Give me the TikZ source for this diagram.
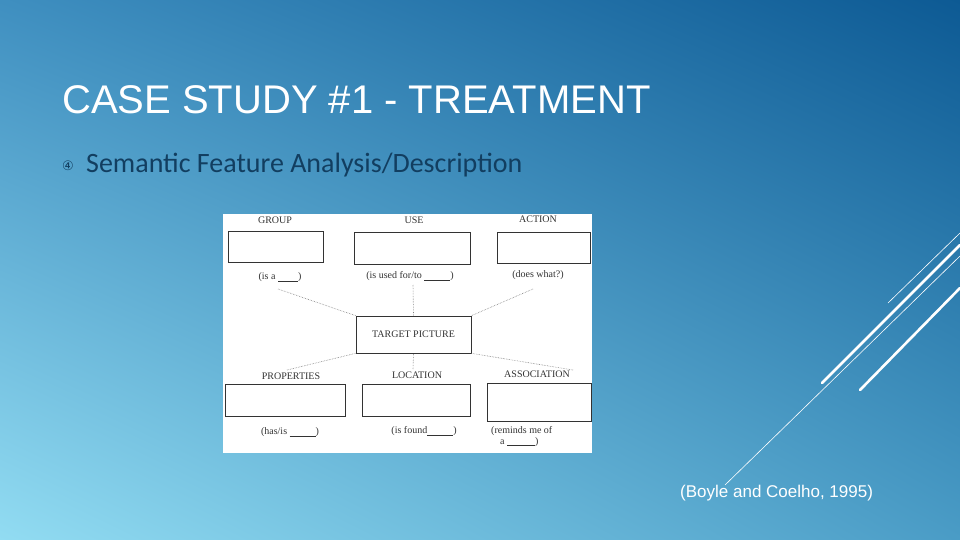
\documentclass[tikz,border=0pt]{standalone}
\usepackage{fontspec}
\usetikzlibrary{shadings}
\setmainfont{Liberation Sans}
\newfontfamily\serfont{Liberation Serif}
\newfontfamily\carfont{Carlito}
\newfontfamily\djv{DejaVu Sans}
\definecolor{bgTR}{HTML}{0D5A94}
\definecolor{bgTL}{HTML}{3F8FC0}
\definecolor{bgBL}{HTML}{92DCF2}
\definecolor{bgBR}{HTML}{4A9CC6}
\definecolor{subcol}{HTML}{123E60}
\definecolor{inkc}{HTML}{333333}
\begin{document}
\begin{tikzpicture}[x=1pt,y=-1pt,
  fbox/.style={draw=inkc,line width=0.6pt},
  flabel/.style={font=\serfont\fontsize{10}{11}\selectfont,text=inkc,inner sep=0pt},
  dotline/.style={draw=gray,line width=0.6pt,densely dotted},
  deco/.style={draw=white,line cap=round}]
\useasboundingbox (0,0) rectangle (960,540);
\shade[upper left=bgTL,upper right=bgTR,lower left=bgBL,lower right=bgBR] (0,0) rectangle (960,540);
% decorative lines
\coordinate (l1a) at (888,303); \coordinate (l1b) at (960,233);
\coordinate (l2a) at (822,383); \coordinate (l2b) at (960,245);
\coordinate (l3a) at (725,485); \coordinate (l3b) at (960,256);
\coordinate (l4a) at (860,390); \coordinate (l4b) at (960,288);
\draw[deco,line width=0.6pt] (l1a) -- (l1b);
\draw[deco,line width=2.6pt] (l2a) -- (l2b);
\draw[deco,line width=0.6pt] (l3a) -- (l3b);
\draw[deco,line width=2.6pt] (l4a) -- (l4b);
% title
\node[anchor=base west,inner sep=0pt,text=white,font=\fontsize{40}{42}\selectfont] (title) at (62,114) {CASE STUDY \#1 - TREATMENT};
\node[anchor=base west,inner sep=0pt,text=subcol,font=\djv\fontsize{13}{14}\selectfont] (bul) at (62,171) {④};
\node[anchor=base west,inner sep=0pt,text=subcol,font=\carfont\fontsize{28}{30}\selectfont] (sub) at (86,172) {Semantic Feature Analysis/Description};
% figure
\fill[white] (223,214) rectangle (592,453);
\draw[fbox] (228,231) rectangle (323,262) node[pos=0.5] (gbox) {};
\draw[fbox] (354,232) rectangle (470,264) node[pos=0.5] (ubox) {};
\draw[fbox] (497,232) rectangle (590,263) node[pos=0.5] (abox) {};
\node[fbox,minimum width=115pt,minimum height=37pt,inner sep=0pt,font=\serfont\fontsize{10}{11}\selectfont,text=inkc] (tgt) at (413.5,334.5) {TARGET PICTURE};
\draw[fbox] (225,384) rectangle (345,416) node[pos=0.5] (pbox) {};
\draw[fbox] (362,384) rectangle (470,416) node[pos=0.5] (lbox) {};
\draw[fbox] (487,383) rectangle (591,421) node[pos=0.5] (asbox) {};
\node[flabel] (gl) at (275,220) {GROUP};
\node[flabel] (ul) at (414,220) {USE};
\node[flabel] (al) at (538,219) {ACTION};
\node[flabel] (pl) at (291,376) {PROPERTIES};
\node[flabel] (ll) at (417,375) {LOCATION};
\node[flabel] (asl) at (537,374) {ASSOCIATION};
\node[flabel] (gs) at (280,277) {(is a \underline{\hspace{20pt}})};
\node[flabel] (us) at (410,276) {(is used for/to \underline{\hspace{26pt}})};
\node[flabel] (as) at (538,275) {(does what?)};
\node[flabel] (ps) at (290,432) {(has/is \underline{\hspace{26pt}})};
\node[flabel] (ls) at (424,431) {(is found\underline{\hspace{26pt}})};
\node[flabel,align=left,anchor=north west] (ass) at (491,426) {(reminds me of\\\hspace{9pt}a \underline{\hspace{28pt}})};
\coordinate (c1) at (278,289); \coordinate (c2) at (413,285); \coordinate (c3) at (533,289);
\coordinate (c4) at (287,370); \coordinate (c5) at (413,369); \coordinate (c6) at (573,370);
\draw[dotline] (c1) -- (tgt.north west);
\draw[dotline] (c2) -- (tgt.north);
\draw[dotline] (c3) -- (tgt.north east);
\draw[dotline] (c4) -- (tgt.south west);
\draw[dotline] (c5) -- (tgt.south);
\draw[dotline] (c6) -- (tgt.south east);
% citation
\node[anchor=base west,inner sep=0pt,text=white,font=\fontsize{17}{19}\selectfont] (cite) at (680,497) {(Boyle and Coelho, 1995)};
\end{tikzpicture}
\end{document}
